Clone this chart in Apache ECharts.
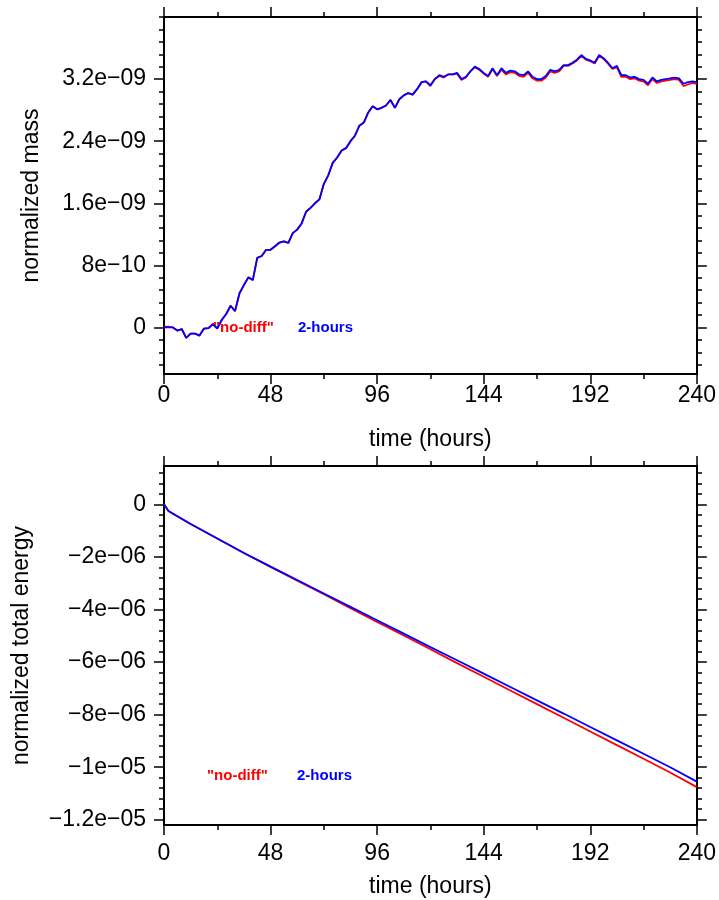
<!DOCTYPE html>
<html><head><meta charset="utf-8">
<script src="https://cdn.jsdelivr.net/npm/echarts@6/dist/echarts.min.js"></script>
<style>html,body{margin:0;padding:0;background:#fff}#c{width:719px;height:900px}</style>
</head><body><div id="c"></div>
<script>
// ---- data ----
const seriesNames = ['"no-diff"', '2-hours'];
const seriesColors = ['#ff0000', '#0000ff'];

const massTime = [
  0,2,4,6,8,10,12,14,16,18,
  20,22,24,26,28,30,32,34,36,38,
  40,42,44,46,48,50,52,54,56,58,
  60,62,64,66,68,70,72,74,76,78,
  80,82,84,86,88,90,92,94,96,98,
  100,102,104,106,108,110,112,114,116,118,
  120,122,124,126,128,130,132,134,136,138,
  140,142,144,146,148,150,152,154,156,158,
  160,162,164,166,168,170,172,174,176,178,
  180,182,184,186,188,190,192,194,196,198,
  200,202,204,206,208,210,212,214,216,218,
  220,222,224,226,228,230,232,234,236,238,
  240];
// normalized mass, units of 1e-10
const massNoDiff = [
  0.1, 0.1, 0, -0.4, -0.2, -1.35, -0.8, -0.8, -1.05, -0.15,
  -0.1, 0.5, -0.1, 0.96, 1.73, 2.8, 2.1, 4.4, 5.46, 6.45,
  6.1, 8.96, 9.2, 10.0, 10.0, 10.46, 10.94, 11.1, 10.9, 12.15,
  12.6, 13.4, 14.9, 15.4, 16.0, 16.5, 18.5, 19.6, 21.2, 21.9,
  22.8, 23.1, 24.0, 24.7, 26.0, 26.4, 27.7, 28.5, 28.1, 28.3,
  28.6, 29.3, 28.3, 29.4, 29.9, 30.2, 30.0, 30.7, 31.6, 31.7,
  31.1, 32.0, 32.4, 32.2, 32.6, 32.6, 32.7, 31.9, 32.2, 33.0,
  33.5, 33.2, 32.7, 32.3, 33.3, 32.4, 33.2, 32.6, 32.9, 32.8,
  32.4, 32.3, 32.8, 32.1, 31.8, 31.8, 32.2, 33.0, 32.8, 33.0,
  33.7, 33.7, 34.0, 34.4, 35.0, 34.5, 34.3, 34.0, 35.0, 34.6,
  34.0, 33.3, 33.5, 32.3, 32.3, 32.0, 32.1, 31.8, 31.7, 31.2,
  32.0, 31.5, 31.7, 31.8, 31.9, 32.0, 31.9, 31.1, 31.3, 31.5,
  31.4];
const massTwoHours = [
  0, 0, 0, -0.4, -0.2, -1.35, -0.8, -0.8, -1.05, -0.15,
  -0.1, 0.4, -0.15, 0.96, 1.73, 2.8, 2.1, 4.4, 5.46, 6.45,
  6.1, 8.96, 9.2, 10.0, 10.0, 10.46, 10.94, 11.1, 10.9, 12.15,
  12.6, 13.4, 14.9, 15.4, 16.0, 16.5, 18.5, 19.6, 21.2, 21.9,
  22.8, 23.1, 24.0, 24.7, 26.0, 26.4, 27.7, 28.5, 28.1, 28.3,
  28.6, 29.3, 28.3, 29.4, 29.9, 30.2, 30.0, 30.7, 31.6, 31.7,
  31.2, 32.0, 32.5, 32.3, 32.6, 32.6, 32.8, 32.0, 32.3, 33.0,
  33.6, 33.3, 32.8, 32.4, 33.4, 32.5, 33.4, 32.8, 33.1, 33.0,
  32.6, 32.5, 33.0, 32.3, 32.0, 32.0, 32.4, 33.2, 33.0, 33.2,
  33.8, 33.8, 34.1, 34.5, 35.1, 34.6, 34.4, 34.1, 35.1, 34.7,
  34.1, 33.4, 33.7, 32.5, 32.5, 32.2, 32.3, 32.0, 31.9, 31.4,
  32.2, 31.7, 31.9, 32.0, 32.1, 32.2, 32.1, 31.4, 31.6, 31.7,
  31.6];
const massUnit = 1e-10;

const energyTime = [0, 2, 6, 12, 24, 36, 48, 60, 72, 84, 96, 108, 120, 132, 144, 156, 168, 180, 192, 204, 216, 228, 240];
// normalized total energy, units of 1e-6
const energyNoDiff = [0, -0.25, -0.45, -0.75, -1.3, -1.85, -2.38, -2.9, -3.42, -3.95, -4.47, -4.99, -5.51, -6.04, -6.56, -7.08, -7.6, -8.12, -8.64, -9.16, -9.68, -10.2, -10.76];
const energyTwoHours = [0, -0.25, -0.45, -0.75, -1.3, -1.85, -2.37, -2.88, -3.39, -3.9, -4.41, -4.92, -5.43, -5.93, -6.44, -6.95, -7.46, -7.96, -8.47, -8.98, -9.49, -10.0, -10.55];
const energyUnit = 1e-6;

// axes ticks / labels
const timeTicks = [0, 48, 96, 144, 192, 240];
const massRange = [-6e-10, 4e-9];
const massTicks = [0, 8e-10, 1.6e-9, 2.4e-9, 3.2e-9];
const massTickLabels = ['0', '8e\u221210', '1.6e\u221209', '2.4e\u221209', '3.2e\u221209'];
const massMinorStep = 1.6e-10;
const energyRange = [-1.22e-5, 1.46e-6];
const energyTicks = [0, -2e-6, -4e-6, -6e-6, -8e-6, -1e-5, -1.2e-5];
const energyTickLabels = ['0', '\u22122e\u221206', '\u22124e\u221206', '\u22126e\u221206', '\u22128e\u221206', '\u22121e\u221205', '\u22121.2e\u221205'];
const energyMinorStep = 4e-7;

// ---- chart ----
const FONT = '"Liberation Sans", Arial, Helvetica, sans-serif';
const FS = 23;
const black = '#000';
const GRIDS = [
  { left: 164, top: 17, width: 533, height: 357 },
  { left: 164, top: 466, width: 533, height: 359 }
];

function minorValues(range, step, majors) {
  const out = [];
  const k0 = Math.ceil(range[0] / step - 1e-6), k1 = Math.floor(range[1] / step + 1e-6);
  for (let k = k0; k <= k1; k++) {
    const v = k * step;
    if (!majors.some(m => Math.abs(m - v) < step * 0.01)) out.push(v);
  }
  return out;
}
function labelFor(ticks, labels) {
  return function (v) {
    let best = 0, bd = Infinity;
    ticks.forEach((t, i) => { const d = Math.abs(t - v); if (d < bd) { bd = d; best = i; } });
    return labels[best];
  };
}
function xAxes(gi, nameGap, labelMargin) {
  const base = {
    gridIndex: gi, type: 'value', min: timeTicks[0], max: timeTicks[timeTicks.length - 1],
    interval: timeTicks[1] - timeTicks[0],
    axisLine: { show: true, onZero: false, lineStyle: { color: black, width: 2 } },
    axisTick: { show: true, inside: false, length: 10, lineStyle: { color: black, width: 1.5 } },
    minorTick: { show: true, splitNumber: 2, length: 5, lineStyle: { color: black, width: 1.5 } },
    splitLine: { show: false }, minorSplitLine: { show: false }
  };
  return [
    Object.assign({}, base, {
      position: 'bottom',
      axisLabel: { show: true, margin: labelMargin, color: black, fontSize: FS, fontFamily: FONT, showMaxLabel: true, showMinLabel: true },
      name: 'time (hours)', nameLocation: 'middle', nameGap: nameGap,
      nameTextStyle: { color: black, fontSize: FS, fontFamily: FONT }
    }),
    Object.assign({}, base, { position: 'top', axisLabel: { show: false } })
  ];
}
function yMajorAxes(gi, range, ticks, labels, name, nameGap) {
  const base = { gridIndex: gi, type: 'value', min: range[0], max: range[1], splitLine: { show: false } };
  const major = (pos, showLabel) => Object.assign({}, base, {
    position: pos,
    axisLine: { show: true, onZero: false, lineStyle: { color: black, width: 2 } },
    axisTick: { show: true, inside: false, length: 10, customValues: ticks, lineStyle: { color: black, width: 1.5 } },
    axisLabel: showLabel ? { show: true, customValues: ticks, formatter: labelFor(ticks, labels), margin: 18, color: black, fontSize: FS, fontFamily: FONT } : { show: false, customValues: ticks }
  }, showLabel ? { name: name, nameLocation: 'middle', nameGap: nameGap, nameRotate: 90, nameTextStyle: { color: black, fontSize: FS, fontFamily: FONT } } : {});
  return [major('left', true), major('right', false)];
}
function yMinorAxes(gi, range, ticks, step) {
  const minors = minorValues(range, step, ticks);
  const minor = (pos) => ({
    gridIndex: gi, type: 'value', min: range[0], max: range[1], position: pos,
    splitLine: { show: false },
    axisLine: { show: false },
    axisTick: { show: true, inside: false, length: 5, customValues: minors, lineStyle: { color: black, width: 1.5 } },
    axisLabel: { show: false, customValues: minors }
  });
  return [minor('left'), minor('right')];
}
const hiddenX = (gi) => ({ gridIndex: gi, type: 'value', min: 0, max: 240, show: false });

const toPairs = (ts, vs, unit) => ts.map((t, i) => [t, vs[i] * unit]);

const chart = echarts.init(document.getElementById('c'), null, { renderer: 'canvas' });
const lineS = (name, color, xi, yi, data) => ({
  name, type: 'line', xAxisIndex: xi, yAxisIndex: yi, data, showSymbol: false, symbol: 'none',
  lineStyle: { color, width: 1.8 }, itemStyle: { color }, animation: false, clip: true
});
const legendText = (x, y, text, color) => ({
  type: 'text', left: x, top: y,
  style: { text, fill: color, font: 'bold 15px ' + FONT }
});

chart.setOption({
  backgroundColor: '#fff',
  animation: false,
  grid: [
    Object.assign({}, GRIDS[0]), Object.assign({}, GRIDS[1]),
    Object.assign({}, GRIDS[0]), Object.assign({}, GRIDS[1])
  ],
  // x: 0 g0 bottom, 1 g0 top, 2 g1 bottom, 3 g1 top, 4 g2 hidden, 5 g3 hidden
  xAxis: [].concat(xAxes(0, 54, 10), xAxes(1, 50, 17), [hiddenX(2), hiddenX(3)]),
  // y: 0 g0 left, 1 g0 right, 2 g1 left, 3 g1 right, 4-5 g2 minors, 6-7 g3 minors
  yAxis: [].concat(
    yMajorAxes(0, massRange, massTicks, massTickLabels, 'normalized mass', 121),
    yMajorAxes(1, energyRange, energyTicks, energyTickLabels, 'normalized total energy', 131),
    yMinorAxes(2, massRange, massTicks, massMinorStep),
    yMinorAxes(3, energyRange, energyTicks, energyMinorStep)
  ),
  series: [
    lineS(seriesNames[0], seriesColors[0], 0, 0, toPairs(massTime, massNoDiff, massUnit)),
    lineS(seriesNames[1], seriesColors[1], 0, 0, toPairs(massTime, massTwoHours, massUnit)),
    lineS(seriesNames[0], seriesColors[0], 2, 2, toPairs(energyTime, energyNoDiff, energyUnit)),
    lineS(seriesNames[1], seriesColors[1], 2, 2, toPairs(energyTime, energyTwoHours, energyUnit))
  ],
  graphic: [
    legendText(213, 320, seriesNames[0], seriesColors[0]),
    legendText(298, 320, seriesNames[1], seriesColors[1]),
    legendText(207, 768, seriesNames[0], seriesColors[0]),
    legendText(297, 768, seriesNames[1], seriesColors[1])
  ]
});
</script>
</body></html>
